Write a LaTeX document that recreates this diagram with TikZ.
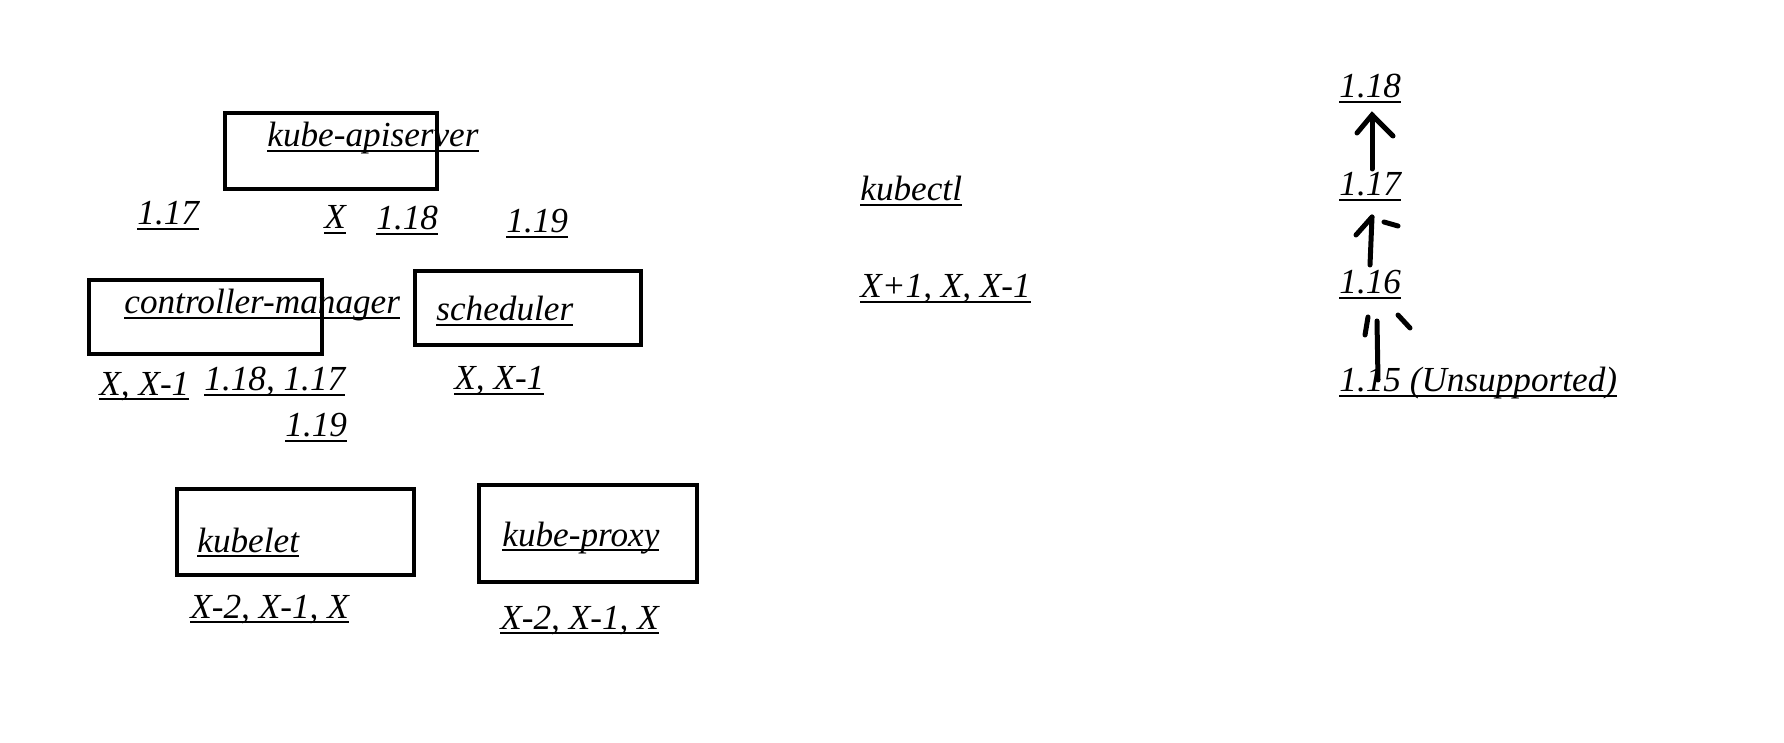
\documentclass[tikz,border=0pt]{standalone}
\usepackage{fontspec}
\setmainfont{Liberation Serif}
\usepackage{tikz}
\usetikzlibrary{calc}
\newcommand{\ulabel}[1]{\setbox0\hbox{#1}\rlap{\rule[-2.5pt]{\wd0}{1pt}}\box0}

\begin{document}
\begin{tikzpicture}[x=0.5pt, y=-0.5pt,
lbl/.style={anchor=base west, inner sep=0pt, font=\fontsize{17.6}{20}\selectfont\itshape},
box/.style={draw, line width=2.3pt},
ink/.style={line width=2.5pt, line cap=round}]
\useasboundingbox (0,0) rectangle (1784,743);

% control plane boxes
\draw[box] (225,113) rectangle (437,189);
\draw[box] (89,280) rectangle (322,354);
\draw[box] (415,271) rectangle (641,345);
% node boxes
\draw[box] (177,489) rectangle (414,575);
\draw[box] (479,485) rectangle (697,582);

% component names
\node[lbl] (api) at (267,147) {\ulabel{kube-apiserver}};
\node[lbl] (cm) at (124,314) {\ulabel{controller-manager}};
\node[lbl] (sched) at (436,321) {\ulabel{scheduler}};
\node[lbl] (kubelet) at (197,552) {\ulabel{kubelet}};
\node[lbl] (proxy) at (502,546) {\ulabel{kube-proxy}};
\node[lbl] (kubectl) at (860,201) {\ulabel{kubectl}};

% versions around the apiserver
\node[lbl] (api117) at (137,225) {\ulabel{1.17}};
\node[lbl] (apix) at (324,229) {\ulabel{X}};
\node[lbl] (api118) at (376,230) {\ulabel{1.18}};
\node[lbl] (api119) at (506,233) {\ulabel{1.19}};

% skew of the other components
\node[lbl] (cmx) at (99,395) {\ulabel{X, X-1}};
\node[lbl] (cmv) at (204,391) {\ulabel{1.18, 1.17}};
\node[lbl] (cmv2) at (285,437) {\ulabel{1.19}};
\node[lbl] (schedx) at (454,390) {\ulabel{X, X-1}};
\node[lbl] (kubeletx) at (190,618) {\ulabel{X-2, X-1, X}};
\node[lbl] (proxyx) at (500,629) {\ulabel{X-2, X-1, X}};
\node[lbl] (kubectlx) at (860,298) {\ulabel{X+1, X, X-1}};

% upgrade path
\node[lbl] (v118) at (1339,98) {\ulabel{1.18}};
\node[lbl] (v117) at (1339,196) {\ulabel{1.17}};
\node[lbl] (v116) at (1339,294) {\ulabel{1.16}};
\node[lbl] (v115) at (1339,392) {\ulabel{1.15 (Unsupported)}};

% hand drawn arrows
\draw[ink] ($(v117.base west)+(33,-27)$) -- ($(v118.base west)+(33,17)$) coordinate (a1t);
\draw[ink] ($(a1t)+(-15,18)$) -- (a1t) -- ($(a1t)+(21,21)$);

\draw[ink] ($(v116.base west)+(31,-29)$) -- ($(v117.base west)+(33,21)$) coordinate (a2t);
\draw[ink] ($(a2t)+(-16,18)$) -- (a2t);
\draw[ink] ($(a2t)+(12,5)$) -- ($(a2t)+(26,9)$);

\draw[ink] ($(v115.base west)+(39,-12)$) -- ($(v116.base west)+(38,27)$) coordinate (a3t);
\draw[ink] ($(a3t)+(-12,14)$) -- ($(a3t)+(-9,-4)$);
\draw[ink] ($(a3t)+(21,-6)$) -- ($(a3t)+(33,7)$);

\end{tikzpicture}
\end{document}
